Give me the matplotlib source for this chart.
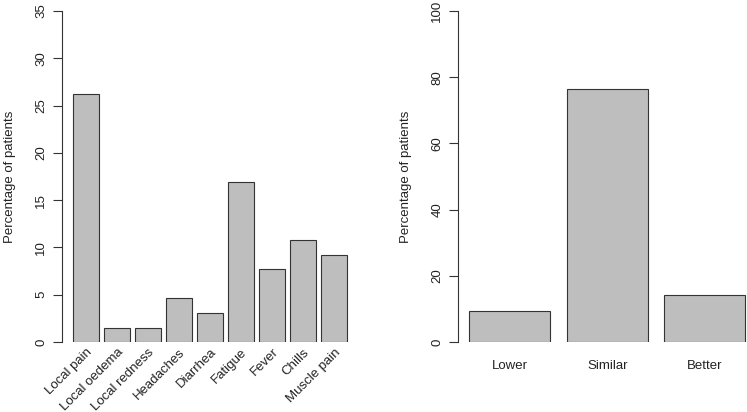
import matplotlib
matplotlib.use("Agg")
import matplotlib.pyplot as plt

plt.rcParams['font.family'] = ['Liberation Sans', 'DejaVu Sans']

symptoms = ["Local pain", "Local oedema", "Local redness", "Headaches", "Diarrhea",
            "Fatigue", "Fever", "Chills", "Muscle pain"]
symptom_pct = [26.2, 1.5, 1.5, 4.6, 3.1, 16.9, 7.7, 10.8, 9.2]
left_yticks = [0, 5, 10, 15, 20, 25, 30, 35]

compare = ["Lower", "Similar", "Better"]
compare_pct = [9.4, 76.5, 14.1]
right_yticks = [0, 20, 40, 60, 80, 100]

W, H = 747, 412
fig = plt.figure(figsize=(W / 100, H / 100), dpi=100)

BAR_FC = "#bebebe"
EDGE = "#333333"
TXT = "#222222"
FS = 9.5

def make_axes(x0, x1, y0, y1):
    return fig.add_axes([x0 / W, 1 - y1 / H, (x1 - x0) / W, (y1 - y0) / H])

def style(ax, ymax, yticks):
    for s in ["top", "right", "bottom"]:
        ax.spines[s].set_visible(False)
    ax.spines["left"].set_bounds(0, ymax)
    ax.spines["left"].set_color(EDGE)
    ax.spines["left"].set_linewidth(0.8)
    ax.set_ylim(0, ymax)
    ax.set_yticks(yticks)
    ax.set_yticklabels([str(t) for t in yticks], rotation=90, va="center",
                       fontsize=FS, color=TXT)
    ax.tick_params(axis="y", length=6.5, width=0.8, color=EDGE, pad=4)
    ax.tick_params(axis="x", length=0)
    ax.set_ylabel("Percentage of patients", fontsize=FS, color=TXT, labelpad=14)
    ax.patch.set_visible(False)

# Left panel
unit = 25.9
x0 = 72.7 - 0.424 * unit
x1 = 72.7 + 11.024 * unit
axL = make_axes(x0, x1, 11, 342)
axL.set_xlim(-0.224, 11.224)
posL = [0.7 + 1.2 * i for i in range(len(symptoms))]
axL.bar(posL, symptom_pct, width=1.0, color=BAR_FC, edgecolor=EDGE, linewidth=0.8)
style(axL, 35, left_yticks)
axL.set_xticks(posL)
axL.set_xticklabels(symptoms, rotation=45, ha="right", va="top",
                    rotation_mode="anchor", fontsize=FS, color=TXT)
axL.tick_params(axis="x", pad=3)

# Right panel
unitR = 81.3
xr0 = 469 - 0.136 * unitR
xr1 = 469 + 3.536 * unitR
axR = make_axes(xr0, xr1, 11, 342)
axR.set_xlim(0.064, 3.736)
posR = [0.7 + 1.2 * i for i in range(len(compare))]
axR.bar(posR, compare_pct, width=1.0, color=BAR_FC, edgecolor=EDGE, linewidth=0.8)
style(axR, 100, right_yticks)
axR.set_xticks(posR)
axR.set_xticklabels(compare, fontsize=FS, color=TXT)
axR.tick_params(axis="x", pad=13)

fig.savefig("out.png", dpi=100)
